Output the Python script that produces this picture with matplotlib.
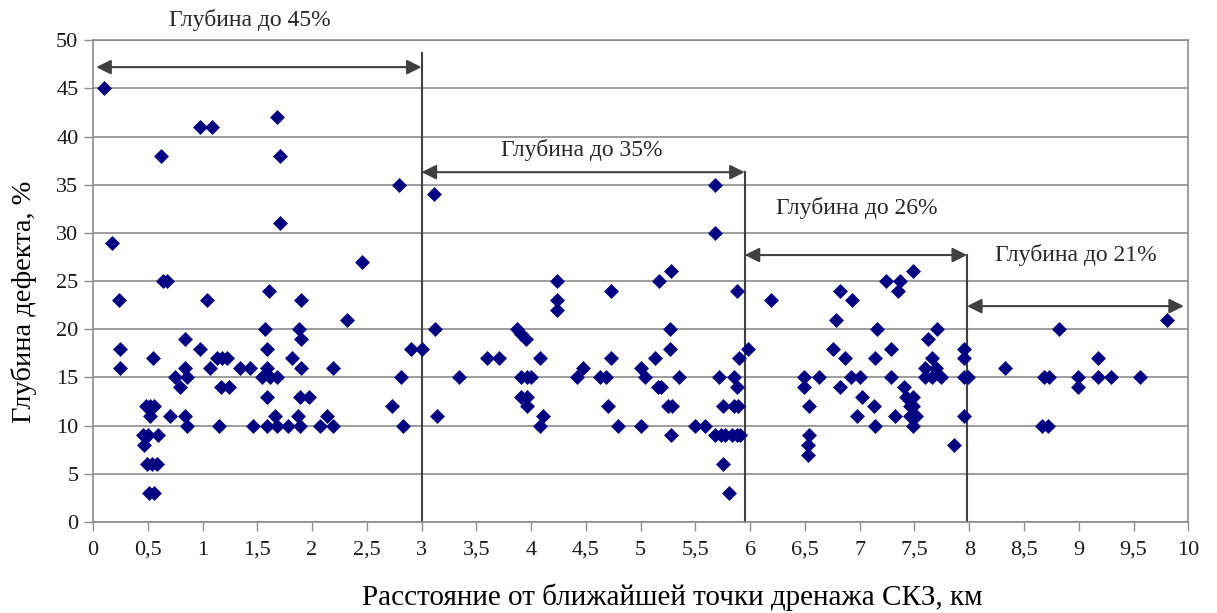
import numpy as np
import matplotlib
matplotlib.use("Agg")
import matplotlib.pyplot as plt

plt.rcParams['font.family'] = ['Liberation Serif', 'DejaVu Serif']

# Расстояние от точки дренажа (км) и глубина дефекта (%)
dist_zone1 = [0.10, 0.17, 0.62, 0.98, 1.09, 1.68, 1.71, 2.79, 1.71, 2.46, 0.64, 0.68, 1.61,
              0.24, 1.04, 1.90, 2.32, 1.57, 1.88, 1.90, 0.84,
              0.25, 0.98, 1.59, 2.90, 3.00,
              0.25, 0.55, 1.13, 1.18, 1.22, 1.82,
              0.84, 1.07, 1.34, 1.43, 1.59, 1.90, 2.19,
              0.75, 0.86, 1.54, 1.62, 1.68, 2.81,
              0.79, 1.17, 1.24,
              1.59, 1.89, 1.97,
              0.48, 0.52, 0.56, 2.73,
              0.52, 0.70, 0.84, 1.66, 1.87, 2.14,
              0.86, 1.15, 1.46, 1.59, 1.68, 1.78, 1.89, 2.07, 2.19, 2.83,
              0.46, 0.50, 0.59, 0.47,
              0.49, 0.54, 0.58, 0.51, 0.56]
depth_zone1 = [45, 29, 38, 41, 41, 42, 38, 35, 31, 27, 25, 25, 24,
               23, 23, 23, 21, 20, 20, 19, 19,
               18, 18, 18, 18, 18,
               16, 17, 17, 17, 17, 17,
               16, 16, 16, 16, 16, 16, 16,
               15, 15, 15, 15, 15, 15,
               14, 14, 14,
               13, 13, 13,
               12, 12, 12, 12,
               11, 11, 11, 11, 11, 11,
               10, 10, 10, 10, 10, 10, 10, 10, 10, 10,
               9, 9, 9, 8,
               6, 6, 6, 3, 3]

dist_zone2 = [3.11, 3.12, 3.34, 3.14, 3.60, 3.71, 3.87, 3.91, 3.95, 4.08, 3.91, 3.96, 4.00,
              3.91, 3.96, 3.96, 4.11, 4.08,
              4.24, 4.24, 4.24, 4.73, 5.17, 5.28, 5.68, 5.68, 5.88,
              4.42, 4.47, 4.63, 4.68, 4.73, 4.70, 4.79, 5.00, 5.00, 5.04, 5.13, 5.16, 5.19,
              5.27, 5.27, 5.35, 5.25, 5.29, 5.28, 5.50, 5.59,
              5.72, 5.85, 5.88, 5.90, 5.98, 5.75, 5.85, 5.89,
              5.68, 5.73, 5.77, 5.83, 5.88, 5.91, 5.75, 5.81]
depth_zone2 = [34, 20, 15, 11, 17, 17, 20, 19.5, 19, 17, 15, 15, 15,
               13, 13, 12, 11, 10,
               25, 23, 22, 24, 25, 26, 35, 30, 24,
               15, 16, 15, 15, 17, 12, 10, 10, 16, 15, 17, 14, 14,
               20, 18, 15, 12, 12, 9, 10, 10,
               15, 15, 14, 17, 18, 12, 12, 12,
               9, 9, 9, 9, 9, 9, 6, 3]

dist_zone3 = [6.19, 6.82, 6.93, 7.24, 7.37, 7.35, 7.49, 6.78, 7.16, 7.62, 7.71, 8.82, 9.81,
              6.76, 6.87, 7.14, 7.29, 7.66, 7.60, 7.70, 7.95, 7.95,
              6.49, 6.63, 6.49, 6.54, 6.54, 6.53, 6.53, 6.92, 7.00, 6.82, 7.02, 6.98, 7.13,
              7.14, 7.29, 7.32,
              7.40, 7.42, 7.49, 7.46, 7.49, 7.46, 7.51, 7.49,
              7.60, 7.66, 7.74, 7.86, 7.95, 7.99, 7.95,
              8.33, 8.68, 8.73, 8.66, 8.72, 8.99, 8.99, 9.18, 9.18, 9.29, 9.56]
depth_zone3 = [23, 24, 23, 25, 25, 24, 26, 21, 20, 19, 20, 20, 21,
               18, 17, 17, 18, 17, 16, 16, 18, 17,
               15, 15, 14, 12, 9, 8, 7, 15, 15, 14, 13, 11, 12,
               10, 15, 11,
               14, 13, 13, 12, 12, 11, 11, 10,
               15, 15, 15, 8, 15, 15, 11,
               16, 15, 15, 10, 10, 15, 14, 17, 15, 15, 15]

# Границы зон и подписи
zone_edges = [0.03, 3.0, 5.95, 7.98, 9.96]
zone_labels = ['Глубина до 45%', 'Глубина до 35%', 'Глубина до 26%', 'Глубина до 21%']
arrow_levels = [47.2, 36.3, 27.7, 22.4]
label_pos = [(1.43, 52.1), (4.46, 38.6), (6.97, 32.6), (8.97, 27.7)]

dist = dist_zone1 + dist_zone2 + dist_zone3
depth = depth_zone1 + depth_zone2 + depth_zone3

fig = plt.figure(figsize=(12.17, 6.13), dpi=100)
ax = fig.add_axes([0.0764, 0.1485, 0.900, 0.786])

ax.scatter(dist, depth, marker='D', s=58, color='#000080', zorder=3, linewidths=0)

ax.set_xlim(0, 10)
ax.set_ylim(0, 50)
xt = np.arange(0, 10.01, 0.5)
ax.set_xticks(xt)
ax.set_xticklabels([('%g' % v).replace('.', ',') for v in xt])
ax.set_yticks(np.arange(0, 51, 5))
ax.grid(axis='y', color='#8c8c8c', lw=1.2)
ax.set_axisbelow(True)
for s in ax.spines.values():
    s.set_color('#8c8c8c')
    s.set_linewidth(1.2)
ax.tick_params(colors='#8c8c8c', labelcolor='#1a1a1a', labelsize=16, length=6.5, width=1)
ax.tick_params(axis='x', pad=7)
ax.tick_params(axis='y', pad=4)

# Вертикальные разделители зон
line_tops = [48.7, 36.3, 27.7]
for xv, top in zip(zone_edges[1:4], line_tops):
    ax.plot([xv, xv], [0, top], color='#404040', lw=1.5, zorder=2, clip_on=False)

# Стрелки и подписи
for i in range(4):
    ax.annotate('', xy=(zone_edges[i], arrow_levels[i]), xytext=(zone_edges[i + 1], arrow_levels[i]),
                arrowprops=dict(arrowstyle='<|-|>', color='#404040', lw=1.5,
                                mutation_scale=22, shrinkA=0, shrinkB=0),
                annotation_clip=False, zorder=4)
    ax.text(label_pos[i][0], label_pos[i][1], zone_labels[i], ha='center', va='center',
            fontsize=17, color='#262626', clip_on=False)

ax.set_xlabel('Расстояние от ближайшей точки дренажа СКЗ, км', fontsize=21)
ax.set_ylabel('Глубина дефекта, %', fontsize=20.5)
ax.xaxis.set_label_coords(0.529, -0.128)
ax.yaxis.set_label_coords(-0.051, 0.456)

fig.savefig('out.png', dpi=100)
